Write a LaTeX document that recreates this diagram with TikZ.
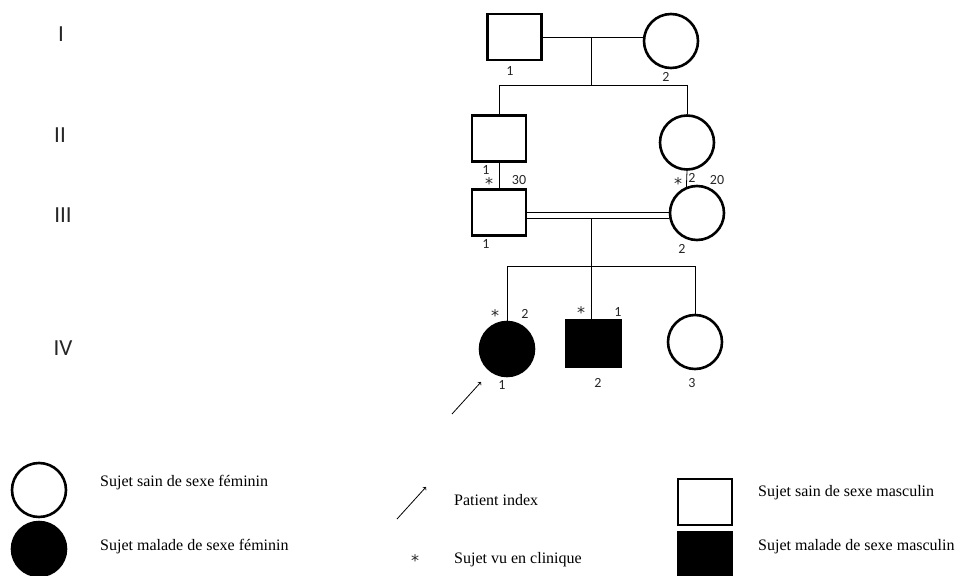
\documentclass[tikz,border=0pt]{standalone}
\usepackage{fontspec}
\setmainfont{Liberation Serif}
\newfontfamily\pedfont{Carlito}
\newfontfamily\markfont{DejaVu Sans}
\usetikzlibrary{positioning, calc}
\tikzstyle{male} = [rectangle, draw=black, line width=2.6pt, minimum width=54pt, minimum height=46pt, inner sep=0pt]
\tikzstyle{female} = [circle, draw=black, line width=2.6pt, minimum size=54pt, inner sep=0pt]
\tikzstyle{affected} = [fill=black]
\tikzstyle{num} = [font=\pedfont\fontsize{14}{14}\selectfont, inner sep=0pt, text=black!85]
\tikzstyle{seen} = [font=\markfont\fontsize{16}{16}\selectfont, inner sep=0pt, text=black!85]
\tikzstyle{gen} = [font=\pedfont\fontsize{23}{23}\selectfont, inner sep=0pt, text=black!85]
\tikzstyle{legend} = [font=\fontsize{16}{16}\selectfont, anchor=west, inner sep=0pt]
\tikzstyle{link} = [line width=0.8pt]
\tikzstyle{arrow} = [line width=0.8pt, ->]

\begin{document}
\begin{tikzpicture}[x=1pt, y=-1pt]
        \useasboundingbox (0,0) rectangle (960,575);

        % generations
        \node (g1) [gen] at (61,34) {I};
        \node (g2) [gen] at (60,135) {II};
        \node (g3) [gen] at (63,215) {III};
        \node (g4) [gen] at (63,348) {IV};

        % individuals
        \node (i1) [male] at (514.5,37) {};
        \node (i2) [female] at (671,41) {};
        \node (ii1) [male] at (499,138.5) {};
        \node (ii2) [female] at (687,142.5) {};
        \node (iii1) [male] at (499,212.5) {};
        \node (iii2) [female] at (697,213) {};
        \node (iv1) [female, affected] at (507,349) {};
        \node (iv2) [male, affected] at (593.5,343.5) {};
        \node (iv3) [female] at (695,342) {};

        % numbers and marks
        \node (i1n) [num] at (510,71) {1};
        \node (i2n) [num] at (666,77) {2};
        \node (ii1n) [num] at (486,170) {1};
        \node (ii1s) [seen] at (489,184) {*};
        \node (ii1a) [num] at (519,180) {30};
        \node (ii2s) [seen] at (678,184) {*};
        \node (ii2n) [num] at (692,178) {2};
        \node (ii2a) [num] at (717,180) {20};
        \node (iii1n) [num] at (486,244) {1};
        \node (iii2n) [num] at (682,249) {2};
        \node (iv1s) [seen] at (495,316) {*};
        \node (iv1a) [num] at (525,314) {2};
        \node (iv1n) [num] at (502,385) {1};
        \node (iv2s) [seen] at (581,313) {*};
        \node (iv2a) [num] at (618,312) {1};
        \node (iv2n) [num] at (598,383) {2};
        \node (iv3n) [num] at (692,383) {3};

        % lines of descent
        \coordinate (m1) at (591,37);
        \coordinate (s1) at (591,85);
        \coordinate (m3) at (591,218.3);
        \coordinate (s3) at (591,266);
        \draw [link] (i1.east) -- (i1.east -| i2.west);
        \draw [link] (m1) -- (s1);
        \draw [link] (ii1.north |- s1) -- (ii2.north |- s1);
        \draw [link] (ii1.north |- s1) -- (ii1.north);
        \draw [link] (ii2.north |- s1) -- (ii2.north);
        \draw [link] (ii1.south) -- (iii1.north);
        \draw [link] (ii2.south) -- (iii2.112);
        \draw [link] (iii1.east) -- (iii1.east -| iii2.west);
        \draw [link] ([yshift=-5.6pt]iii1.east) -- ([yshift=-5.6pt]iii1.east -| iii2.west);
        \draw [link] (m3) -- (s3 |- iv2.north);
        \draw [link] (iv1.north |- s3) -- (iv3.north |- s3);
        \draw [link] (iv1.north |- s3) -- (iv1.north);
        \draw [link] (iv3.north |- s3) -- (iv3.north);

        % index patient
        \coordinate (p0) at (452,414);
        \coordinate (p1) at (481,382);
        \draw [arrow] (p0) -- (p1);

        % legend
        \node (lf0) [female] at (39,490) {};
        \node (lf0t) [legend] at (100,483) {Sujet sain de sexe féminin};
        \node (lf1) [female, affected] at (39,549) {};
        \node (lf1t) [legend] at (100,547) {Sujet malade de sexe féminin};
        \coordinate (la0) at (397,519);
        \coordinate (la1) at (426,487);
        \draw [arrow] (la0) -- (la1);
        \node (lat) [legend] at (454,500) {Patient index};
        \node (ls) [seen] at (415,561) {*};
        \node (lst) [legend] at (454,560) {Sujet vu en clinique};
        \node (lm0) [male] at (705,502) {};
        \node (lm0t) [legend] at (758,493) {Sujet sain de sexe masculin};
        \node (lm1) [male, affected] at (705,555) {};
        \node (lm1t) [legend] at (758,547) {Sujet malade de sexe masculin};
    \end{tikzpicture}
\end{document}
